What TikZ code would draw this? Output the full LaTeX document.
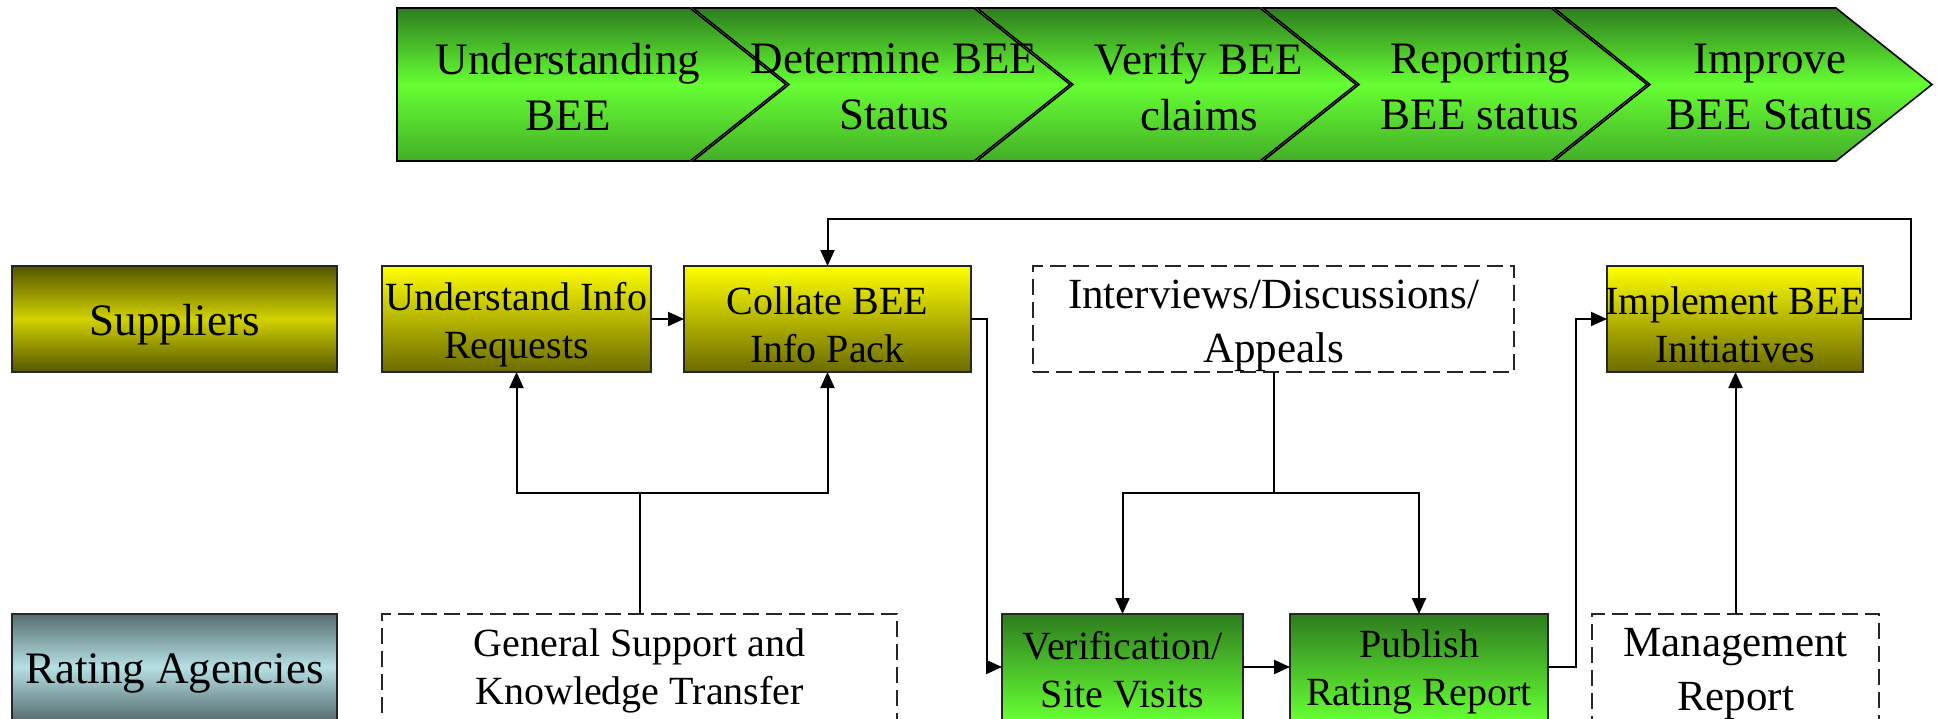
\documentclass[tikz,border=0pt]{standalone}
\usepackage{fontspec}
\setmainfont{Liberation Serif}
\usetikzlibrary{arrows.meta}
\definecolor{chtop}{HTML}{2E7D1F}
\definecolor{chmid}{HTML}{66FF33}
\definecolor{chbot}{HTML}{44AE29}
\definecolor{ytop}{HTML}{FFFF00}
\definecolor{ybot}{HTML}{6B6B00}
\definecolor{oedge}{HTML}{555500}
\definecolor{omid}{HTML}{D2D200}
\definecolor{sedge}{HTML}{566E70}
\definecolor{smid}{HTML}{B6E0E4}
\definecolor{gtop}{HTML}{2E7D1F}
\definecolor{gbot}{HTML}{66FF33}
\begin{document}
\begin{tikzpicture}[x=0.5pt,y=-0.5pt,
  every node/.style={inner sep=0pt, outer sep=0pt, align=center, text=black},
  box/.style={draw=black!85, line width=1pt, rectangle, minimum height=53pt},
  ybox/.style={box, top color=ytop, bottom color=ybot},
  gbox/.style={box, top color=gtop, bottom color=gbot},
  lanesup/.style={box, top color=oedge, bottom color=oedge, middle color=omid},
  lanerat/.style={box, top color=sedge, bottom color=sedge, middle color=smid},
  dbox/.style={draw=black!85, line width=1pt, dash pattern=on 8pt off 3.5pt,
    fill=white, rectangle, minimum height=53pt},
  boxtext/.style={font=\fontsize{20}{24}\selectfont},
  bigtext/.style={font=\fontsize{21.5}{27}\selectfont},
  lanetext/.style={font=\fontsize{22.5}{27}\selectfont},
  chevtext/.style={font=\fontsize{22.5}{28}\selectfont},
  chev/.style={draw=black, line width=0.8pt, line join=miter,
    top color=chtop, bottom color=chbot, middle color=chmid},
  link/.style={draw=black, line width=1pt},
  arr/.style={link, -{Triangle[length=8pt,width=7pt]}},
]
\useasboundingbox (0,0) rectangle (1937,718);

% process chevrons
\path[chev] (397,8) -- (690,8) -- (786,84.5) -- (690,161) -- (397,161) -- cycle;
\path[chev] (693,8) -- (974,8) -- (1070,84.5) -- (974,161) -- (693,161) -- (789,84.5) -- cycle;
\path[chev] (977,8) -- (1260,8) -- (1356,84.5) -- (1260,161) -- (977,161) -- (1073,84.5) -- cycle;
\path[chev] (1263,8) -- (1551,8) -- (1647,84.5) -- (1551,161) -- (1263,161) -- (1359,84.5) -- cycle;
\path[chev] (1554,8) -- (1836,8) -- (1932,84.5) -- (1836,161) -- (1554,161) -- (1650,84.5) -- cycle;
\node[chevtext] (c1) at (568,87) {Understanding\\BEE};
\node[chevtext] (c2) at (894,87) {Determine BEE\\Status};
\node[chevtext] (c3) at (1199,87) {Verify BEE\\claims};
\node[chevtext] (c4) at (1480,87) {Reporting\\BEE status};
\node[chevtext] (c5) at (1770,87) {Improve\\BEE Status};

% swim lane labels
\node[lanesup, minimum width=162.5pt] (sup) at (174.5,319) {};
\node[lanerat, minimum width=162.5pt] (rat) at (174.5,667) {};
\node[lanetext] (supt) at ([yshift=-3pt]sup.center) {Suppliers};
\node[lanetext] (ratt) at ([yshift=-3pt]rat.center) {Rating Agencies};

% supplier activities
\node[ybox, minimum width=134.5pt] (ui) at (516.5,319) {};
\node[ybox, minimum width=143.5pt] (col) at (827.5,319) {};
\node[dbox, minimum width=240.5pt] (int) at (1273.5,319) {};
\node[ybox, minimum width=128pt] (imp) at (1735,319) {};
\node[boxtext] (uit) at ([yshift=-3pt]ui.center) {Understand Info\\Requests};
\node[boxtext] (colt) at ([yshift=-3pt]col.center) {Collate BEE\\Info Pack};
\node[bigtext] (intt) at ([yshift=-3.5pt]int.center) {Interviews/Discussions/\\Appeals};
\node[boxtext] (impt) at ([yshift=-3pt]imp.center) {Implement BEE\\Initiatives};

% rating agency activities
\node[dbox, minimum width=257.5pt] (gen) at (639.5,667) {};
\node[gbox, minimum width=120.5pt] (ver) at (1122.5,667) {};
\node[gbox, minimum width=129pt] (pub) at (1419,667) {};
\node[dbox, minimum width=143.5pt] (man) at (1735.5,667) {};
\node[boxtext] (gent) at ([yshift=-2pt]gen.center) {General Support and\\Knowledge Transfer};
\node[boxtext] (vert) at ([yshift=-1.5pt]ver.center) {Verification/\\Site Visits};
\node[boxtext] (pubt) at ([yshift=-2.5pt]pub.center) {Publish\\Rating Report};
\node[bigtext] (mant) at ([yshift=-3.5pt]man.center) {Management\\Report};

% connectors
\coordinate (gj) at (639.5,493);
\coordinate (ij) at (1273.5,493);
\coordinate (loop) at (1911,219);
\draw[arr] (ui.east) -- (col.west);
\draw[arr] (ver.east) -- (pub.west);
\draw[link] (gen.north) -- (gj);
\draw[arr] (gj) -| (ui.south);
\draw[arr] (gj) -| (col.south);
\draw[link] (int.south) -- (ij);
\draw[arr] (ij) -| (ver.north);
\draw[arr] (ij) -| (pub.north);
\draw[arr] (col.east) -- ++(16,0) |- (ver.west);
\draw[arr] (pub.east) -- ++(28,0) |- (imp.west);
\draw[arr] (imp.east) -| (loop) -| (col.north);
\draw[arr] (man.north) -- (man.north |- imp.south);
\end{tikzpicture}
\end{document}
